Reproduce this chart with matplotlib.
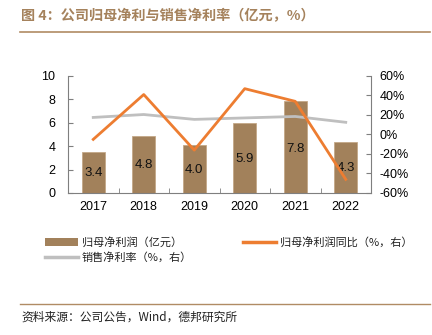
import matplotlib
matplotlib.use("Agg")
import matplotlib.pyplot as plt
from matplotlib.patches import Patch
from matplotlib.lines import Line2D
from matplotlib.ticker import FixedLocator, FuncFormatter

years = ["2017", "2018", "2019", "2020", "2021", "2022"]
profit = [3.5, 4.9, 4.1, 6.0, 7.9, 4.4]
profit_labels = ["3.4", "4.8", "4.0", "5.9", "7.8", "4.3"]
yoy = [-5, 41, -16, 47, 34, -46]
margin = [17.5, 20.5, 15.5, 17, 18.5, 12.5]

title = "图 4：公司归母净利与销售净利率（亿元，%）"
source = "资料来源：公司公告，Wind，德邦研究所"
leg_labels = ["归母净利润（亿元）", "销售净利率（%，右）", "归母净利润同比（%，右）"]

CJK = ["Noto Sans CJK SC", "DejaVu Sans"]
NUM = ["Liberation Sans", "DejaVu Sans"]

bar_c = "#A2815B"
orange = "#ED7D31"
gray = "#BFBFBF"
brown = "#A5825C"
spine_c = "#7F7F7F"

W, H = 432, 335
fig = plt.figure(figsize=(W / 100, H / 100), dpi=100)

x0, x1, yt, yb = 68, 371, 76, 193
ax = fig.add_axes([x0 / W, 1 - yb / H, (x1 - x0) / W, (yb - yt) / H])
ax2 = ax.twinx()

x = list(range(len(years)))
ax.bar(x, profit, width=0.46, color=bar_c, edgecolor="#C4A888", linewidth=0.6, zorder=1)
for xi, v, lab in zip(x, profit, profit_labels):
    ax.text(xi, v * 0.48, lab, ha="center", va="center", fontsize=9.5,
            family=NUM, color="#111111", zorder=5)
ax.set_xlim(-0.5, len(years) - 0.5)
ax.set_ylim(0, 10)
ax.set_yticks([0, 2, 4, 6, 8, 10])
ax.set_xticks(x)
ax.set_xticklabels(years)
ax.xaxis.set_minor_locator(FixedLocator([i + 0.5 for i in range(len(years) - 1)]))

ax2.plot(x, yoy, color=orange, lw=2.0, zorder=3)
ax2.plot(x, margin, color=gray, lw=2.0, zorder=2)
ax2.set_ylim(-60, 60)
ax2.set_yticks(range(-60, 61, 20))
ax2.yaxis.set_major_formatter(FuncFormatter(lambda v, p: f"{int(v)}%"))

for a in (ax, ax2):
    a.spines["top"].set_visible(False)
    for s in ("left", "right", "bottom"):
        a.spines[s].set_color(spine_c)
        a.spines[s].set_linewidth(0.8)
ax.spines["right"].set_visible(False)
ax2.spines["left"].set_visible(False)
ax2.spines["bottom"].set_visible(False)

ax.tick_params(axis="y", direction="in", length=3.5, color=spine_c, pad=9, labelsize=9)
ax.tick_params(axis="x", which="major", length=0, pad=6, labelsize=9)
ax.tick_params(axis="x", which="minor", direction="in", length=3.5, color=spine_c)
ax2.tick_params(axis="y", direction="in", length=3.5, color=spine_c, pad=6, labelsize=9)
for lab in ax.get_xticklabels() + ax.get_yticklabels() + ax2.get_yticklabels():
    lab.set_family(NUM)

# Title and rules
fig.text(21 / W, 1 - 16 / H, title, family=CJK, fontsize=10.2, fontweight="bold",
         color=brown, va="center", ha="left")
fig.add_artist(Line2D([20 / W, 430 / W], [1 - 32 / H, 1 - 32 / H], color="#B08B64", lw=1.2))
fig.add_artist(Line2D([20 / W, 430 / W], [1 - 304 / H, 1 - 304 / H], color="#B08B64", lw=1.0))
fig.text(21 / W, 1 - 317 / H, source, family=CJK, fontsize=8.5, color="#222222",
         va="center", ha="left")

handles = [Patch(facecolor=bar_c, edgecolor="none"),
           Line2D([], [], color=gray, lw=2.5),
           Line2D([], [], color=orange, lw=2.5)]
leg = fig.legend(handles, leg_labels, ncol=2, loc="upper left",
                 bbox_to_anchor=(45 / W, 1 - 237 / H), frameon=False,
                 prop={"family": CJK, "size": 8}, handlelength=3.0,
                 handleheight=0.8, handletextpad=0.3, columnspacing=4.6,
                 labelspacing=0.35, borderpad=0, borderaxespad=0)
for t in leg.get_texts():
    t.set_color("#222222")

fig.savefig("out.png", dpi=100)
